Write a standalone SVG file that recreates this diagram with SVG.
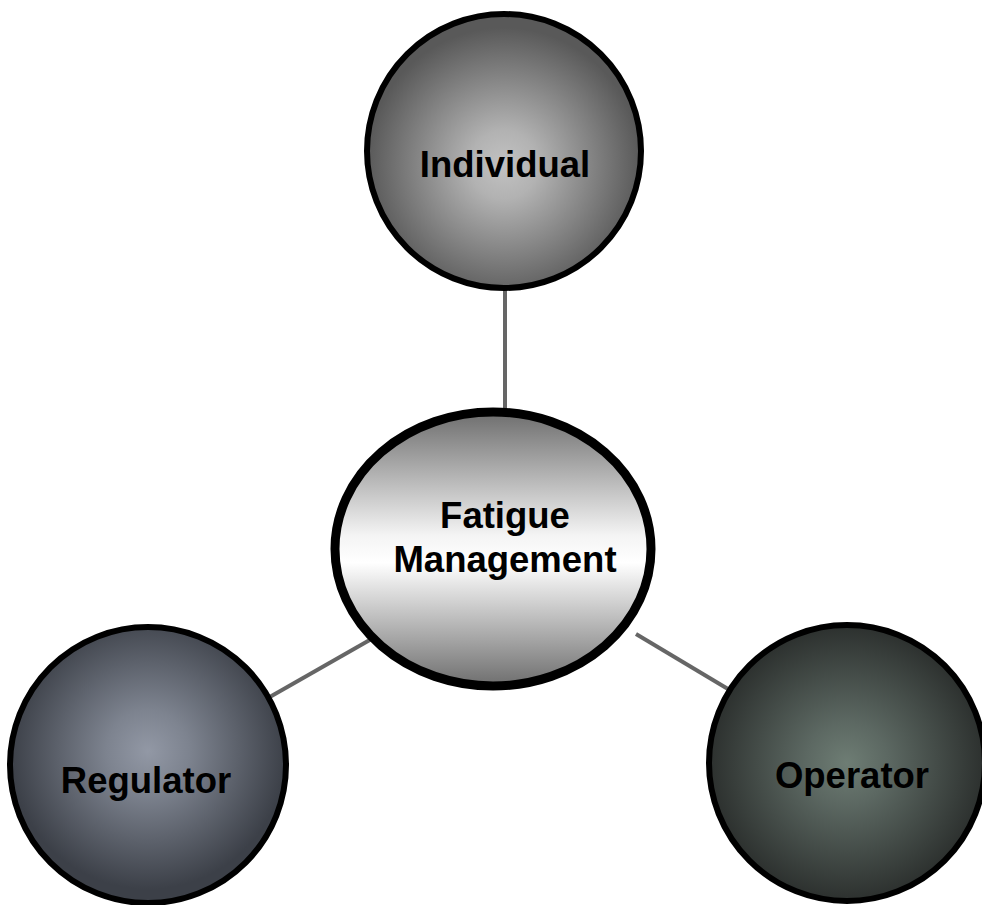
<svg xmlns="http://www.w3.org/2000/svg" width="982" height="905" viewBox="0 0 982 905">
<style>
.lbl{font-family:"Liberation Sans",Arial,sans-serif;font-weight:bold;font-size:36.5px;fill:#000;text-anchor:middle}
.node{stroke:#000;stroke-width:6}
.conn{stroke:#666;stroke-width:4;fill:none}
</style>
<defs>
<radialGradient id="gInd" cx="0.5" cy="0.55" r="0.5">
<stop offset="0" stop-color="#c2c2c2"/>
<stop offset="0.25" stop-color="#b2b2b2"/>
<stop offset="1" stop-color="#595959"/>
</radialGradient>
<radialGradient id="gReg" cx="0.5" cy="0.45" r="0.5">
<stop offset="0" stop-color="#9298a5"/>
<stop offset="0.3" stop-color="#7d838f"/>
<stop offset="1" stop-color="#3c4048"/>
</radialGradient>
<radialGradient id="gOp" cx="0.5" cy="0.5" r="0.5">
<stop offset="0" stop-color="#6e7d74"/>
<stop offset="0.3" stop-color="#5c6862"/>
<stop offset="1" stop-color="#2c302e"/>
</radialGradient>
<linearGradient id="gFat" x1="0" y1="0" x2="0" y2="1">
<stop offset="0" stop-color="#6e6e6e"/>
<stop offset="0.45" stop-color="#f4f4f4"/>
<stop offset="0.55" stop-color="#ffffff"/>
<stop offset="1" stop-color="#6e6e6e"/>
</linearGradient>
</defs>
<g id="connectors">
<line class="conn" x1="505" y1="285" x2="505" y2="412"/>
<line class="conn" x1="375" y1="637" x2="268" y2="698"/>
<line class="conn" x1="636" y1="634" x2="733" y2="692"/>
</g>
<g id="individual">
<circle class="node" cx="504" cy="151" r="137" fill="url(#gInd)"/>
<text class="lbl" x="505" y="177">Individual</text>
</g>
<g id="fatigue">
<ellipse class="node" cx="493" cy="549" rx="158" ry="137" fill="url(#gFat)" style="stroke-width:9"/>
<text class="lbl" x="505" y="528">Fatigue</text>
<text class="lbl" x="505" y="572">Management</text>
</g>
<g id="regulator">
<circle class="node" cx="148" cy="765" r="138" fill="url(#gReg)"/>
<text class="lbl" x="146" y="793">Regulator</text>
</g>
<g id="operator">
<circle class="node" cx="847" cy="763" r="138" fill="url(#gOp)"/>
<text class="lbl" x="852" y="788">Operator</text>
</g>
</svg>
